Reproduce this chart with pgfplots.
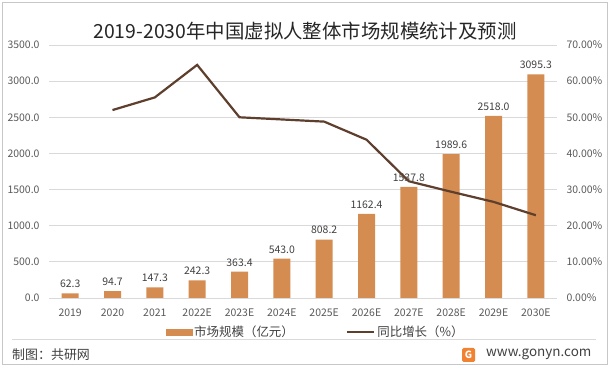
\documentclass[border=0pt]{standalone}
\usepackage{pgfplots}
\pgfplotsset{compat=1.18}
\usepackage{fontspec}
\setmainfont{Noto Sans CJK SC}
\definecolor{barc}{RGB}{212,140,80}
\definecolor{linec}{RGB}{94,62,45}
\definecolor{txt}{RGB}{89,89,89}
\definecolor{lbl}{RGB}{64,64,64}
\definecolor{gridc}{RGB}{217,217,217}
\definecolor{logoc}{RGB}{240,130,50}
\begin{document}
\begin{tikzpicture}
\path[use as bounding box] (0,0) rectangle (612bp,370bp);
\draw[draw=gridc!80!gray, line width=0.8bp] (2bp,6bp) rectangle (607bp,368bp);
\draw[draw=gridc, line width=0.8bp] (12bp,31bp) -- (596bp,31bp);
\node[anchor=west, font=\fontsize{13}{15}\selectfont, text=lbl, inner sep=0pt] at (12bp,15bp) {制图：共研网};
\fill[logoc, rounded corners=1.5bp] (462bp,8bp) rectangle (475bp,22bp);
\node[font=\bfseries\fontsize{10}{10}\selectfont, text=white, inner sep=0pt] at (468.5bp,15bp) {G};
\node[anchor=west, font=\fontsize{13.5}{15}\selectfont, text=lbl, inner sep=0pt] at (486bp,15.5bp) {www.gonyn.com};
\node[font=\fontsize{19.5}{22}\selectfont, text=black!85, inner sep=0pt] at (305bp,339bp) {2019-2030年中国虚拟人整体市场规模统计及预测};
\begin{axis}[
  at={(49bp,72bp)}, anchor=south west,
  width=508bp, height=253bp, scale only axis,
  xmin=-0.5, xmax=11.5, ymin=0, ymax=3500,
  ytick={0,500,...,3500},
  xtick={0,...,11},
  xticklabels={2019,2020,2021,2022E,2023E,2024E,2025E,2026E,2027E,2028E,2029E,2030E},
  axis line style={draw=none},
  major tick length=0pt,
  ymajorgrids, grid style={gridc, line width=0.8bp},
  tick label style={font=\fontsize{10.5}{12}\selectfont, text=txt},
  /pgf/number format/assume math mode=true,
  yticklabel={\pgfmathprintnumber[fixed,fixed zerofill,precision=1,1000 sep={}]{\tick}},
  yticklabel style={xshift=-6bp},
  xticklabel style={yshift=-7bp},
  clip=false,
]
\addplot[ybar, bar width=17bp, fill=barc, draw=none,
  nodes near coords,
  nodes near coords style={font=\fontsize{10.5}{12}\selectfont, text=lbl, yshift=2bp},
  point meta=explicit symbolic]
  coordinates {(0,62.3)[62.3] (1,94.7)[94.7] (2,147.3)[147.3] (3,242.3)[242.3] (4,363.4)[363.4] (5,543.0)[543.0] (6,808.2)[808.2] (7,1162.4)[1162.4] (8,1537.8)[1537.8] (9,1989.6)[1989.6] (10,2518.0)[2518.0] (11,3095.3)[3095.3]};
\end{axis}
\begin{axis}[
  at={(49bp,72bp)}, anchor=south west,
  width=508bp, height=253bp, scale only axis,
  xmin=-0.5, xmax=11.5, ymin=0, ymax=70,
  ytick={0,10,...,70},
  xtick=\empty,
  axis y line*=right, axis x line=none,
  axis line style={draw=none},
  major tick length=0pt,
  tick label style={font=\fontsize{10.5}{12}\selectfont, text=txt},
  /pgf/number format/assume math mode=true,
  yticklabel={\pgfmathprintnumber[fixed,fixed zerofill,precision=2]{\tick}\%},
  yticklabel style={xshift=6bp},
  legend columns=2,
  legend style={at={(0.525,-0.135)}, anchor=center, draw=none, fill=none,
    font=\fontsize{12.5}{14}\selectfont, text=lbl, inner sep=0pt,
    /tikz/every even column/.append style={column sep=50bp}},
  clip=false,
]
\addlegendimage{legend image code/.code={\fill[barc] (0bp,-3bp) rectangle (26bp,3bp);}}
\addlegendentry{市场规模（亿元）}
\addplot[linec, line width=2.2bp, mark=none,
  legend image code/.code={\draw[linec, line width=2.5bp] (0bp,0bp) -- (27bp,0bp);}]
  coordinates {(1,52.0) (2,55.5) (3,64.5) (4,50.0) (5,49.4) (6,48.8) (7,43.8) (8,32.3) (9,29.4) (10,26.6) (11,22.9)};
\addlegendentry{同比增长（\%）}
\end{axis}
\end{tikzpicture}
\end{document}
